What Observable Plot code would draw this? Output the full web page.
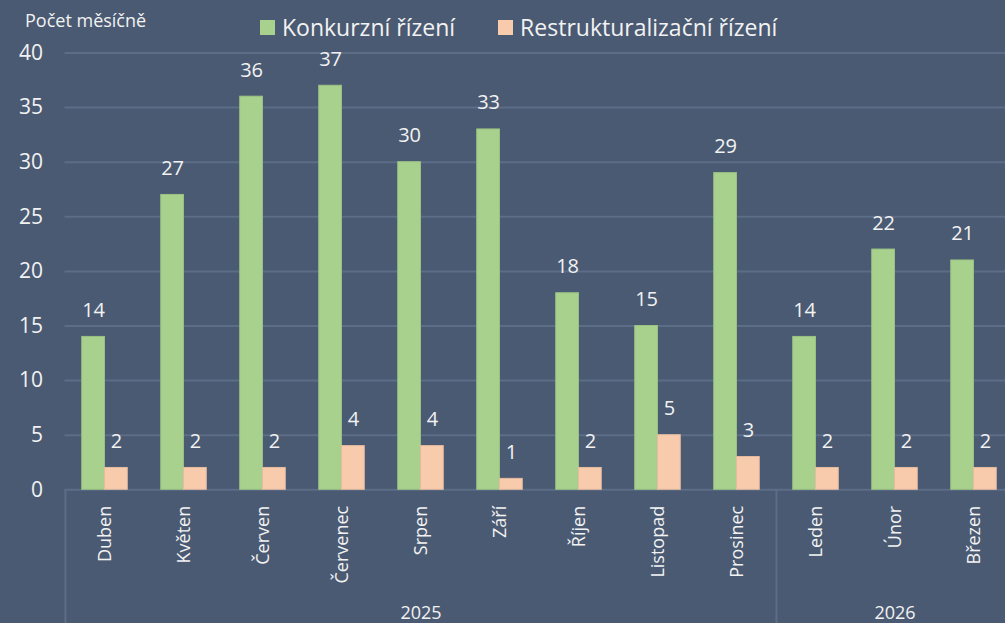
<!DOCTYPE html>
<html>
<head>
<meta charset="utf-8">
<script src="https://cdn.jsdelivr.net/npm/d3@7"></script>
<script src="https://cdn.jsdelivr.net/npm/@observablehq/plot@0.6"></script>
<style>
  html, body { margin: 0; padding: 0; background: #4a5a72; overflow: hidden; }
  #wrap { position: relative; width: 1005px; height: 623px; font-family: "Open Sans", sans-serif; color: #f2f2f2; }
  #title { position: absolute; left: 25px; top: 8px; font-size: 18px; line-height: 24px; }
  #legend { position: absolute; left: 260px; top: 12px; display: flex; align-items: center; font-size: 23px; line-height: 30px; }
  .sw { width: 15px; height: 15px; display: inline-block; margin-right: 7px; }
  .item { display: flex; align-items: center; margin-right: 43px; }
  svg { position: absolute; left: 0; top: 0; }
</style>
</head>
<body>
<div id="wrap">
  <div id="chart"></div>
  <div id="title">Počet měsíčně</div>
  <div id="legend"></div>
</div>
<script>
const months = ["Duben","Květen","Červen","Červenec","Srpen","Září","Říjen","Listopad","Prosinec","Leden","Únor","Březen"];
const monthYear = [2025,2025,2025,2025,2025,2025,2025,2025,2025,2026,2026,2026];
const konkurzni = [14,27,36,37,30,33,18,15,29,14,22,21];
const restrukturalizacni = [2,2,2,4,4,1,2,5,3,2,2,2];
const seriesNames = ["Konkurzní řízení","Restrukturalizační řízení"];
const yTicks = [0,5,10,15,20,25,30,35,40];

const colors = ["#a9d18e","#f8cbad"];
const strokes = ["#9cc283","#e6bca0"];
const textColor = "#f2f2f2";
const gridColor = "#5c6d87";

const data = [];
months.forEach((m, i) => {
  data.push({month: m, series: seriesNames[0], value: konkurzni[i]});
  data.push({month: m, series: seriesNames[1], value: restrukturalizacni[i]});
});

// year groups: center month and first month
const years = Array.from(new Set(monthYear));
const yearInfo = years.map(y => {
  const ms = months.filter((m, i) => monthYear[i] === y);
  return {year: String(y), center: ms[Math.floor(ms.length / 2)], first: ms[0]};
});

const W = 1005, H = 623;
const xLeft = 64.5, xRight = 1013.7;
const yBottom = 489.3, yTop = 52.5;
const band = (xRight - xLeft) / months.length;
const barW = 22.8;
const half = band / 2;

const chart = Plot.plot({
  width: W,
  height: H,
  marginLeft: xLeft,
  marginRight: 0,
  marginTop: yTop,
  marginBottom: H - yBottom,
  style: {background: "transparent", fontFamily: "Open Sans, sans-serif", color: textColor, overflow: "visible"},
  x: {domain: months, range: [xLeft, xRight], padding: 0},
  y: {domain: [0, 40], range: [yBottom, yTop]},
  marks: [
    Plot.gridY(yTicks, {stroke: gridColor, strokeOpacity: 1, strokeWidth: 2}),
    Plot.ruleX(yearInfo, {x: "first", dx: -half, stroke: gridColor, strokeWidth: 2, insetTop: yBottom - yTop, insetBottom: -(H - yBottom)}),
    Plot.barY(data.filter(d => d.series === seriesNames[0]), {x: "month", y: "value", fill: colors[0], stroke: strokes[0], strokeWidth: 1, insetLeft: half - barW, insetRight: half}),
    Plot.barY(data.filter(d => d.series === seriesNames[1]), {x: "month", y: "value", fill: colors[1], stroke: strokes[1], strokeWidth: 1, insetLeft: half, insetRight: half - barW}),
    Plot.text(data.filter(d => d.series === seriesNames[0]), {x: "month", y: "value", text: d => String(d.value), dx: -barW / 2, dy: -20, lineAnchor: "bottom", fill: textColor, fontSize: 20}),
    Plot.text(data.filter(d => d.series === seriesNames[1]), {x: "month", y: "value", text: d => String(d.value), dx: barW / 2, dy: -20, lineAnchor: "bottom", fill: textColor, fontSize: 20}),
    Plot.axisY(yTicks, {tickSize: 0, tickPadding: 22, fontSize: 21, fill: textColor, label: null}),
    Plot.axisX({tickSize: 0, tickRotate: -90, tickPadding: 16, fontSize: 18, fill: textColor, label: null}),
    Plot.text(yearInfo, {x: "center", text: "year", frameAnchor: "bottom", dy: 123, fontSize: 18, fill: textColor, lineAnchor: "middle"})
  ]
});
document.getElementById("chart").appendChild(chart);

const legend = document.getElementById("legend");
seriesNames.forEach((s, i) => {
  const item = document.createElement("div");
  item.className = "item";
  const sw = document.createElement("span");
  sw.className = "sw";
  sw.style.background = colors[i];
  const t = document.createElement("span");
  t.textContent = s;
  item.appendChild(sw);
  item.appendChild(t);
  legend.appendChild(item);
});
</script>
</body>
</html>
